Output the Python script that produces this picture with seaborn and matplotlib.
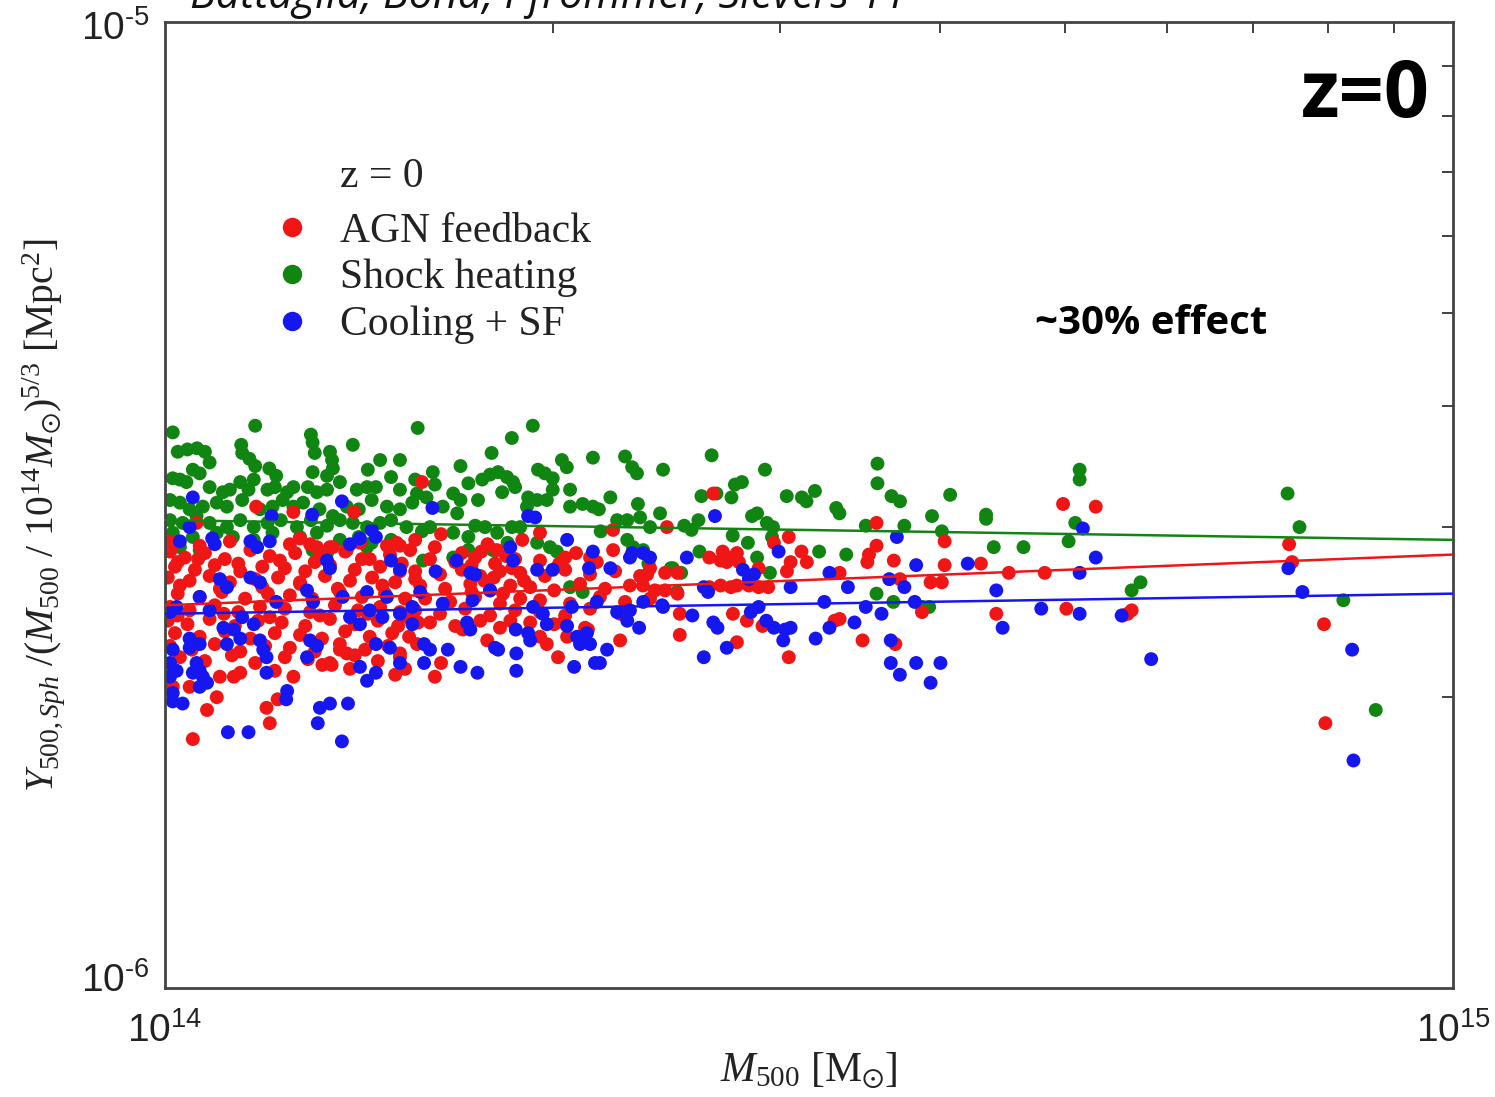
import numpy as np
import pandas as pd
import matplotlib
matplotlib.use("Agg")
import matplotlib.pyplot as plt
from matplotlib.lines import Line2D
from matplotlib.ticker import NullFormatter, LogLocator
from matplotlib.transforms import ScaledTranslation
import seaborn as sns

# Cluster samples: (M500 in 1e14 Msun, Y500/(M500/1e14 Msun)^(5/3) in 1e-6 Mpc^2)
shock_points = [
    (1.014, 3.76), (1.175, 3.82), (1.023, 3.59), (1.041, 3.61), (1.059, 3.62),
    (1.074, 3.59), (1.083, 3.50), (1.051, 3.44), (1.064, 3.41), (1.014, 3.37),
    (1.027, 3.36), (1.039, 3.34), (1.146, 3.65), (1.148, 3.58), (1.163, 3.53),
    (1.175, 3.47), (1.205, 3.45), (1.220, 3.39), (1.298, 3.74), (1.302, 3.67),
    (1.307, 3.58), (1.343, 3.59), (1.348, 3.52), (1.350, 3.45), (1.336, 3.39),
    (1.399, 3.65), (1.469, 3.52), (1.522, 3.52), (1.437, 3.44), (1.302, 3.42),
    (1.083, 3.30), (1.109, 3.26), (1.123, 3.28), (1.144, 3.34), (1.161, 3.28),
    (1.172, 3.36), (1.201, 3.28), (1.217, 3.30), (1.244, 3.26), (1.258, 3.30),
    (1.291, 3.30), (1.312, 3.26), (1.336, 3.28), (1.367, 3.34), (1.409, 3.28),
    (1.435, 3.30), (1.458, 3.30), (1.498, 3.38), (1.522, 3.28),
    (1.009, 3.20), (1.027, 3.18), (1.045, 3.13), (1.070, 3.15), (1.097, 3.18),
    (1.117, 3.15), (1.148, 3.20), (1.185, 3.13), (1.212, 3.15), (1.234, 3.20),
    (1.258, 3.15), (1.280, 3.18), (1.318, 3.13), (1.350, 3.08), (1.384, 3.15),
    (1.414, 3.13), (1.447, 3.20), (1.487, 3.15), (1.522, 3.13), (1.556, 3.18),
    (1.009, 3.05), (1.032, 3.03), (1.058, 3.08), (1.083, 3.03), (1.117, 3.00),
    (1.144, 3.05), (1.172, 3.00), (1.201, 3.03), (1.230, 3.05), (1.266, 3.00),
    (1.298, 3.05), (1.336, 3.01), (1.367, 3.05), (1.399, 3.03), (1.435, 3.00),
    (1.469, 3.03), (1.498, 3.05), (1.540, 3.00),
    (1.014, 2.96), (1.051, 2.93), (1.097, 2.96), (1.129, 2.93), (1.172, 2.91),
    (1.212, 2.96), (1.273, 2.93), (1.312, 2.96), (1.367, 2.91), (1.414, 2.93),
    (1.447, 2.89), (1.498, 2.91),
    (1.027, 2.86), (1.064, 2.84), (1.302, 2.84), (1.336, 2.82), (1.435, 2.86),
    (1.571, 3.80), (1.930, 3.82), (1.859, 3.71), (1.793, 3.58), (1.696, 3.47),
    (1.614, 3.42), (1.564, 3.36), (1.620, 3.32), (1.720, 3.33), (1.763, 3.36),
    (1.788, 3.40), (1.814, 3.42), (1.843, 3.38), (1.863, 3.34), (1.870, 3.30),
    (1.827, 3.26), (1.674, 3.25), (1.696, 3.20), (1.686, 3.10), (1.750, 3.20),
    (1.948, 3.44), (1.972, 3.41), (2.000, 3.37), (2.000, 3.28), (2.033, 3.52),
    (2.051, 3.46), (2.149, 3.54), (2.276, 3.55), (2.305, 3.46), (2.325, 3.41),
    (2.436, 3.44), (2.063, 3.28), (1.914, 3.22), (1.945, 3.20), (1.979, 3.20),
    (2.063, 3.15), (2.110, 3.17), (2.149, 3.15), (2.172, 3.13), (2.217, 3.22),
    (2.329, 3.17), (2.423, 3.10), (1.910, 3.15), (1.569, 3.25), (1.596, 3.22),
    (1.643, 3.15), (2.244, 3.05), (2.285, 3.05), (2.338, 3.07), (2.380, 3.00),
    (2.179, 2.97), (1.583, 2.97), (1.606, 3.00), (1.674, 2.96), (1.720, 2.93),
    (1.741, 3.01), (1.772, 3.00), (1.811, 2.96), (1.859, 3.00), (1.887, 3.00),
    (1.720, 2.84), (1.797, 2.84), (1.845, 2.89), (1.945, 2.89), (1.990, 2.86),
    (2.015, 2.83), (1.586, 2.77), (2.285, 2.91), (2.309, 2.86), (2.351, 2.84),
    (2.373, 2.75), (2.470, 2.72), (2.063, 2.60), (2.110, 2.57), (1.674, 2.79),
    (2.657, 3.56), (2.923, 3.44), (2.609, 3.23), (2.680, 3.25), (2.753, 3.22),
    (2.770, 3.32), (2.805, 3.34), (3.039, 3.23), (3.122, 3.22), (3.148, 3.19),
    (3.196, 3.27), (3.320, 3.14), (3.339, 3.10), (3.574, 3.49), (3.574, 3.33),
    (3.665, 3.23), (3.721, 3.19), (4.07, 3.24), (3.94, 3.08), (3.75, 3.01),
    (4.34, 3.09), (4.34, 3.06), (4.40, 2.86), (4.64, 2.86), (4.01, 2.97),
    (3.50, 3.01), (3.38, 2.81), (3.22, 2.83), (2.856, 3.08), (2.882, 3.10),
    (2.933, 3.03), (2.965, 3.00), (2.960, 2.93), (2.759, 2.94), (2.835, 2.89),
    (2.600, 2.83), (2.479, 2.72), (2.516, 2.69), (2.882, 2.79), (2.949, 2.69),
    (2.530, 3.01), (2.563, 2.98), (2.595, 3.05), (3.568, 2.56), (3.677, 2.51),
    (3.87, 2.48), (3.92, 2.48), (2.498, 2.57),
    (5.13, 3.44), (5.13, 3.36), (5.09, 3.03), (5.03, 2.90), (5.63, 2.58),
    (5.72, 2.63), (7.44, 3.25), (7.60, 3.00), (8.22, 2.52), (8.71, 1.94),
]

agn_points = [
    (1.018, 2.89), (1.064, 2.87), (1.123, 2.90), (1.250, 2.88), (1.343, 2.86),
    (1.417, 2.89), (1.522, 2.87),
    (1.009, 2.83), (1.036, 2.79), (1.074, 2.82), (1.113, 2.78), (1.165, 2.84),
    (1.206, 2.80), (1.262, 2.82), (1.319, 2.79), (1.380, 2.83), (1.442, 2.78),
    (1.495, 2.81), (1.550, 2.84),
    (1.023, 2.76), (1.061, 2.78), (1.140, 2.75), (1.228, 2.77), (1.307, 2.76),
    (1.422, 2.78), (1.527, 2.75),
    (1.018, 2.73), (1.055, 2.71), (1.093, 2.74), (1.144, 2.70), (1.190, 2.73),
    (1.239, 2.72), (1.285, 2.70), (1.343, 2.74), (1.404, 2.71), (1.469, 2.73),
    (1.522, 2.70),
    (1.005, 2.66), (1.045, 2.64), (1.083, 2.67), (1.123, 2.63), (1.175, 2.65),
    (1.224, 2.66), (1.273, 2.63), (1.331, 2.67), (1.392, 2.64), (1.448, 2.66),
    (1.509, 2.63), (1.564, 2.65),
    (1.027, 2.61), (1.103, 2.59), (1.190, 2.60), (1.273, 2.62), (1.362, 2.59),
    (1.475, 2.61),
    (1.023, 2.56), (1.064, 2.54), (1.107, 2.57), (1.154, 2.53), (1.202, 2.56),
    (1.250, 2.55), (1.301, 2.53), (1.367, 2.57), (1.422, 2.54), (1.482, 2.56),
    (1.536, 2.53),
    (1.009, 2.48), (1.045, 2.46), (1.093, 2.49), (1.140, 2.45), (1.185, 2.48),
    (1.239, 2.47), (1.296, 2.45), (1.355, 2.49), (1.412, 2.46), (1.469, 2.48),
    (1.522, 2.45),
    (1.023, 2.43), (1.111, 2.44), (1.206, 2.42), (1.319, 2.43), (1.437, 2.44),
    (1.543, 2.42),
    (1.005, 2.40), (1.041, 2.38), (1.083, 2.41), (1.133, 2.37), (1.181, 2.40),
    (1.232, 2.39), (1.285, 2.37), (1.343, 2.41), (1.404, 2.38), (1.463, 2.40),
    (1.517, 2.37), (1.572, 2.39),
    (1.018, 2.33), (1.064, 2.31), (1.113, 2.34), (1.165, 2.30), (1.217, 2.33),
    (1.273, 2.32), (1.324, 2.30), (1.380, 2.34), (1.442, 2.31), (1.501, 2.33),
    (1.009, 2.26), (1.049, 2.24), (1.093, 2.27), (1.144, 2.23), (1.196, 2.26),
    (1.250, 2.25), (1.307, 2.23), (1.367, 2.27), (1.430, 2.24), (1.490, 2.26),
    (1.027, 2.20), (1.074, 2.18), (1.127, 2.21), (1.175, 2.17), (1.239, 2.20),
    (1.291, 2.19), (1.343, 2.17), (1.404, 2.21), (1.463, 2.18), (1.522, 2.20),
    (1.005, 2.13), (1.217, 2.13), (1.392, 2.14), (1.509, 2.11),
    (1.606, 2.78), (1.680, 2.76), (1.741, 2.79), (1.804, 2.75), (1.870, 2.78),
    (1.955, 2.77), (2.023, 2.75),
    (1.564, 2.70), (1.635, 2.68), (1.700, 2.71), (1.757, 2.67), (1.820, 2.70),
    (1.887, 2.69), (1.972, 2.67), (2.045, 2.71), (2.138, 2.68), (2.236, 2.70),
    (2.338, 2.67), (2.445, 2.69),
    (1.578, 2.61), (1.650, 2.59), (1.726, 2.62), (1.788, 2.58), (1.854, 2.61),
    (1.921, 2.60), (2.005, 2.58), (2.100, 2.62), (2.196, 2.59), (2.296, 2.61),
    (2.401, 2.58),
    (1.592, 2.53), (1.665, 2.51), (1.741, 2.54), (1.820, 2.50), (1.887, 2.53),
    (1.955, 2.52), (2.063, 2.50), (2.176, 2.54), (2.276, 2.51), (2.380, 2.53),
    (1.564, 2.46), (1.635, 2.44), (1.710, 2.47), (1.788, 2.43), (1.870, 2.46),
    (1.955, 2.45), (2.045, 2.43), (2.138, 2.47), (2.256, 2.44),
    (1.606, 2.39), (1.680, 2.37), (1.757, 2.40), (1.820, 2.36), (1.921, 2.39),
    (2.005, 2.38), (2.119, 2.36),
    (1.780, 2.88), (1.810, 2.84), (1.840, 2.80), (1.760, 2.83),
    (1.700, 2.82), (1.730, 2.74), (1.770, 2.64), (1.800, 2.66), (1.860, 2.72),
    (1.830, 2.56), (1.730, 2.57), (1.900, 2.64),
    (1.177, 3.15), (1.258, 3.11), (1.402, 3.11), (1.058, 3.03), (1.004, 2.90),
    (1.273, 2.92), (1.296, 2.88), (1.312, 2.86), (1.350, 2.86), (1.384, 2.84),
    (1.487, 2.87), (1.513, 2.89),
    (1.325, 2.16), (1.347, 2.16), (1.103, 2.10), (1.131, 2.10), (1.258, 2.10),
    (1.045, 2.05), (1.014, 2.05), (1.097, 2.00), (1.078, 1.94), (1.199, 1.95),
    (1.223, 1.99), (1.206, 1.88), (1.051, 1.81), (1.144, 2.12), (1.367, 2.24),
    (1.384, 2.22), (1.522, 2.22), (1.536, 2.14),
    (1.583, 3.34), (1.638, 2.95), (1.564, 2.91), (1.620, 2.86), (1.955, 2.96),
    (1.894, 2.91), (2.085, 2.82), (2.045, 2.79), (2.138, 2.79), (2.164, 2.76),
    (2.228, 2.98), (2.228, 2.84), (2.380, 2.72), (2.368, 2.68), (2.453, 3.00),
    (1.703, 2.35), (1.854, 2.40), (1.547, 2.31), (1.569, 2.27), (1.638, 2.17),
    (1.620, 2.10), (1.779, 2.29), (1.955, 2.31), (1.979, 2.27), (2.038, 2.39),
    (2.052, 2.31), (2.019, 2.20), (2.256, 2.29), (2.130, 2.35),
    (2.665, 3.25), (3.05, 2.93), (4.03, 2.90), (3.568, 3.03), (3.568, 2.87),
    (3.52, 2.81), (3.51, 2.76), (3.68, 2.77), (4.98, 3.17), (5.28, 3.15),
    (2.50, 2.69), (2.646, 2.79), (2.71, 2.83), (2.753, 2.79), (2.78, 2.82),
    (2.79, 2.76), (2.73, 2.76), (2.70, 2.77), (2.89, 2.72), (2.97, 2.89),
    (3.06, 2.76), (3.12, 2.83), (3.15, 2.76), (2.35, 2.61), (2.445, 2.58),
    (2.50, 2.56), (2.646, 2.60), (2.70, 2.61), (2.75, 2.60), (2.78, 2.61),
    (2.84, 2.61), (2.89, 2.60), (2.94, 2.60), (3.04, 2.70), (3.34, 2.69),
    (3.72, 2.65), (3.93, 2.63), (4.01, 2.63), (4.03, 2.74), (4.30, 2.75),
    (4.52, 2.69), (4.82, 2.69), (2.51, 2.32), (2.76, 2.44), (2.78, 2.28),
    (2.83, 2.40), (2.91, 2.37), (3.31, 2.40), (3.34, 2.41), (3.05, 2.20),
    (3.48, 2.29), (3.69, 2.27), (3.87, 2.45), (4.42, 2.44), (5.01, 2.47),
    (2.51, 2.44),
    (5.54, 2.43), (5.59, 2.44), (5.63, 2.46), (7.46, 2.88), (7.50, 2.76),
    (7.94, 2.38), (7.96, 1.88),
]

cooling_points = [
    (1.051, 3.22), (1.045, 3.00), (1.027, 2.90), (1.088, 2.92), (1.093, 2.88),
    (1.165, 2.90), (1.179, 2.86), (1.206, 2.90), (1.301, 3.09), (1.372, 3.19),
    (1.210, 3.08), (1.447, 2.98), (1.458, 2.93), (1.392, 2.88), (1.417, 2.92),
    (1.336, 2.77), (1.343, 2.72), (1.498, 2.77), (1.522, 2.71), (1.103, 2.65),
    (1.117, 2.60), (1.165, 2.66), (1.185, 2.63), (1.289, 2.58), (1.303, 2.51),
    (1.374, 2.54), (1.435, 2.57), (1.487, 2.54), (1.021, 2.48), (1.009, 2.45),
    (1.064, 2.54), (1.083, 2.46), (1.220, 2.51), (1.148, 2.42), (1.172, 2.38),
    (1.392, 2.42), (1.417, 2.38), (1.442, 2.46), (1.475, 2.42), (1.522, 2.44),
    (1.556, 2.38), (1.110, 2.36), (1.131, 2.35), (1.144, 2.30), (1.117, 2.27),
    (1.045, 2.30), (1.064, 2.27), (1.185, 2.29), (1.192, 2.24), (1.199, 2.20),
    (1.296, 2.29), (1.312, 2.26), (1.289, 2.20), (1.458, 2.27), (1.495, 2.25),
    (1.009, 2.17), (1.021, 2.13), (1.009, 2.10), (1.058, 2.17), (1.064, 2.13),
    (1.051, 2.12), (1.070, 2.10), (1.078, 2.07), (1.064, 2.05), (1.199, 2.12),
    (1.417, 2.15), (1.458, 2.12), (1.435, 2.08), (1.522, 2.17), (1.014, 1.98),
    (1.032, 1.97), (1.244, 2.03), (1.242, 1.99), (1.319, 1.95), (1.343, 1.97),
    (1.387, 1.97), (1.314, 1.88), (1.119, 1.84), (1.161, 1.84), (1.372, 1.80),
    (1.045, 2.25), (1.014, 2.24), (1.014, 2.02),
    (1.613, 3.14), (1.914, 3.08), (1.938, 3.07), (2.052, 2.91), (1.854, 2.86),
    (1.684, 2.77), (1.622, 2.70), (1.726, 2.69), (1.741, 2.68), (1.863, 2.77),
    (2.000, 2.71), (1.945, 2.71), (2.149, 2.83), (2.134, 2.72), (2.217, 2.72),
    (2.296, 2.79), (2.351, 2.82), (2.380, 2.79), (1.578, 2.57), (1.556, 2.48),
    (1.643, 2.50), (1.733, 2.52), (1.788, 2.58), (1.931, 2.48), (1.965, 2.44),
    (1.979, 2.38), (2.070, 2.48), (2.164, 2.51), (2.244, 2.45), (2.285, 2.40),
    (2.351, 2.51), (2.436, 2.48), (1.872, 2.35), (1.716, 2.39), (1.726, 2.35),
    (1.914, 2.33), (1.921, 2.29), (2.052, 2.37), (2.089, 2.31), (2.126, 2.33),
    (2.138, 2.27), (2.100, 2.27), (1.589, 2.27), (1.606, 2.24), (1.589, 2.17),
    (1.658, 2.24), (1.804, 2.25), (1.814, 2.24), (1.874, 2.22), (2.204, 2.24),
    (2.334, 2.36), (1.696, 2.15), (1.748, 2.12), (1.874, 2.13), (2.078, 2.15),
    (2.157, 2.17),
    (2.673, 3.08), (3.70, 2.93), (3.83, 2.74), (4.20, 2.75), (4.42, 2.58),
    (4.47, 2.36), (4.79, 2.47), (5.13, 2.44), (5.16, 2.99), (5.28, 2.79),
    (5.13, 2.69), (2.305, 2.82), (2.542, 2.79), (2.810, 2.71), (2.840, 2.65),
    (2.866, 2.68), (2.995, 2.83), (3.06, 2.60), (3.28, 2.69), (3.65, 2.65),
    (3.75, 2.60), (3.82, 2.51), (3.25, 2.51), (3.39, 2.60), (3.50, 2.48),
    (3.60, 2.44), (2.296, 2.46), (2.432, 2.49), (2.567, 2.43), (2.62, 2.60),
    (2.64, 2.57), (2.665, 2.39), (2.685, 2.36), (2.85, 2.45), (2.89, 2.48),
    (2.93, 2.40), (2.97, 2.36), (3.03, 2.35), (3.06, 2.36), (3.02, 2.29),
    (3.20, 2.30), (3.28, 2.36), (3.43, 2.39), (2.176, 2.17), (2.62, 2.20),
    (2.73, 2.25), (3.66, 2.17), (3.72, 2.11), (3.83, 2.17), (3.93, 2.07),
    (4.00, 2.17), (3.66, 2.29),
    (5.53, 2.43), (5.83, 2.19), (7.45, 2.72), (7.64, 2.57), (8.35, 2.24),
    (8.37, 1.72),
]

# Power-law fits: values at M500 = 1e14 and 1e15 Msun (in 1e-6 Mpc^2)
fit_mass = [1.0, 10.0]
shock_fit = [3.05, 2.91]
agn_fit = [2.49, 2.81]
cooling_fit = [2.44, 2.56]

series_names = ["Shock heating", "AGN feedback", "Cooling + SF"]
legend_order = ["AGN feedback", "Shock heating", "Cooling + SF"]
colors = {"AGN feedback": "#f01616", "Shock heating": "#118511", "Cooling + SF": "#1616f0"}

# ---------------------------------------------------------------- fonts
sns.set_theme(style="white")
plt.rcParams["font.family"] = ["Liberation Serif", "DejaVu Serif"]
plt.rcParams["mathtext.fontset"] = "custom"
plt.rcParams["mathtext.rm"] = "Liberation Serif"
plt.rcParams["mathtext.it"] = "Liberation Serif:italic"
plt.rcParams["mathtext.bf"] = "Liberation Serif:bold"
plt.rcParams["mathtext.sf"] = "Liberation Sans"
plt.rcParams["mathtext.fallback"] = "stix"

# ---------------------------------------------------------------- data
rows = []
for name, pts in zip(series_names, [shock_points, agn_points, cooling_points]):
    for m, y in pts:
        rows.append({"run": name, "m500": m * 1e14, "y": y * 1e-6})
df = pd.DataFrame(rows)

fit_rows = []
for name, fit in zip(series_names, [shock_fit, agn_fit, cooling_fit]):
    for m, y in zip(fit_mass, fit):
        fit_rows.append({"run": name, "m500": m * 1e14, "y": y * 1e-6})
fit_df = pd.DataFrame(fit_rows)

# ---------------------------------------------------------------- figure
W, H = 1495, 1097
fig = plt.figure(figsize=(W / 100, H / 100), dpi=100)
fig.patch.set_facecolor("white")
ax = fig.add_axes([165 / W, 1 - 988 / H, (1453 - 165) / W, (988 - 22) / H])

ax.set_xscale("log")
ax.set_yscale("log")

sns.scatterplot(data=df, x="m500", y="y", hue="run", palette=colors,
                s=100, linewidth=0, alpha=1.0, legend=False, ax=ax, zorder=2)
sns.lineplot(data=fit_df, x="m500", y="y", hue="run", palette=colors,
             linewidth=1.8, legend=False, ax=ax, zorder=3)

ax.set_xlim(1e14, 1e15)
ax.set_ylim(1e-6, 1e-5)

# ticks
ax.set_xticks([1e14, 1e15], labels=[r"$\mathsf{10^{14}}$", r"$\mathsf{10^{15}}$"])
ax.set_yticks([1e-6, 1e-5], labels=["$\\mathsf{10^{\u2010 6}}$", "$\\mathsf{10^{\u2010 5}}$"])
ax.xaxis.set_minor_locator(LogLocator(base=10, subs=np.arange(2, 10)))
ax.yaxis.set_minor_locator(LogLocator(base=10, subs=np.arange(2, 10)))
ax.xaxis.set_minor_formatter(NullFormatter())
ax.yaxis.set_minor_formatter(NullFormatter())
ax.tick_params(which="both", direction="in", top=True, right=True,
               color="#333333", labelsize=28, labelcolor="#222222")
ax.tick_params(which="major", length=0)
ax.tick_params(axis="x", which="major", pad=18)
ax.tick_params(axis="y", which="major", pad=11)
ax.tick_params(which="minor", length=8, width=1.3)

# nudge the y tick labels vertically
for lab, dy in zip(ax.get_yticklabels(), [10, -3]):
    lab.set_transform(lab.get_transform() + ScaledTranslation(0, dy / 100, fig.dpi_scale_trans))

for sp in ax.spines.values():
    sp.set_color("#444444")
    sp.set_linewidth(2.0)

ax.set_xlabel(r"$M_{500}$ [M$_{\odot}$]", fontsize=30, color="#222222")
ax.xaxis.set_label_coords(0.5, (988 - 1050) / 966)
ax.set_ylabel(r"$Y_{500,Sph}\ /(M_{500}\ /\ 10^{14}M_{\odot})^{5/3}$ [Mpc$^2$]",
              fontsize=28.5, color="#222222")
ax.yaxis.set_label_coords((67 - 165) / 1288, (988 - 515) / 966)
ax.grid(False)

# legend
handles, labels = [], []
for name in legend_order:
    handles.append(Line2D([], [], linestyle="none", marker="o", markersize=14,
                          markerfacecolor=colors[name], markeredgewidth=0))
    labels.append(name)
ax.legend(handles, labels, loc="upper left",
          bbox_to_anchor=((271 - 165) / 1288, (988 - 212) / 966),
          frameon=False, fontsize=30, handlelength=1.0, handletextpad=0.65,
          labelspacing=0.2, borderpad=0, borderaxespad=0,
          labelcolor="#222222")
fig.text(340 / W, 1 - 187 / H, "z = 0", fontsize=30, color="#222222",
         ha="left", va="baseline")

# annotations
fig.text(190 / W, 1 - 8 / H, "Battaglia, Bond, Pfrommer, Sievers 11",
         family=["Open Sans", "DejaVu Sans"], style="italic", fontsize=31,
         va="baseline", ha="left", color="#111111")
fig.text(1430 / W, 1 - 117 / H, "z=0", family=["Open Sans", "DejaVu Sans"],
         fontweight="bold", fontsize=57, ha="right", va="baseline", color="black")
fig.text(1035 / W, 1 - 334 / H, "~30% effect", family=["Open Sans", "DejaVu Sans"],
         fontweight="bold", fontsize=29, ha="left", va="baseline", color="black")

fig.savefig("out.png", dpi=100, facecolor="white")
